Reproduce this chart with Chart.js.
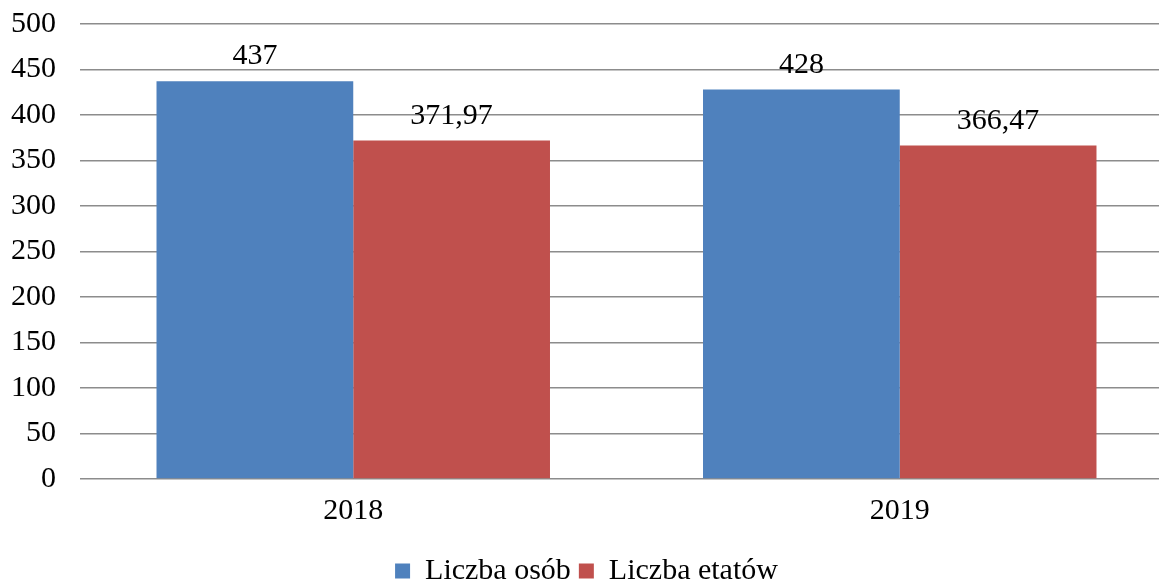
<!DOCTYPE html>
<html lang="pl">
<head>
<meta charset="UTF-8">
<title>Liczba osób i etatów</title>
<script src="https://cdn.jsdelivr.net/npm/chart.js"></script>
<style>
    html, body { margin: 0; padding: 0; background: #fff; overflow: hidden; }
    #wrap { width: 1173px; height: 580px; }
</style>
</head>
<body>
<div id="wrap"><canvas id="chart"></canvas></div>
<script>
// Data
const years = ['2018', '2019'];
const persons = [437, 428];
const posts = [371.97, 366.47];
const seriesNames = ['Liczba osób', 'Liczba etatów'];

const FONT = '"Liberation Serif", "Times New Roman", serif';
const SIZE = 30;

const fmt = v => String(v).replace('.', ',');

// draws the value above each bar
const valueLabels = {
    id: 'valueLabels',
    afterDatasetsDraw(chart) {
        const ctx = chart.ctx;
        ctx.save();
        ctx.font = SIZE + 'px ' + FONT;
        ctx.fillStyle = '#000';
        ctx.textAlign = 'center';
        ctx.textBaseline = 'alphabetic';
        chart.data.datasets.forEach((ds, i) => {
            chart.getDatasetMeta(i).data.forEach((bar, j) => {
                ctx.fillText(fmt(ds.data[j]), bar.x, bar.y - 17);
            });
        });
        ctx.restore();
    }
};

new Chart(document.getElementById('chart'), {
    type: 'bar',
    data: {
        labels: years,
        datasets: [
            { label: seriesNames[0], data: persons, backgroundColor: '#4F81BD' },
            { label: seriesNames[1], data: posts, backgroundColor: '#C0504D' }
        ]
    },
    options: {
        responsive: true,
        maintainAspectRatio: false,
        animation: false,
        categoryPercentage: 0.72,
        barPercentage: 1.0,
        layout: { padding: { top: 24, right: 0, left: 0, bottom: -16 } },
        plugins: {
            legend: {
                position: 'bottom',
                labels: {
                    font: { family: FONT, size: SIZE },
                    color: '#000',
                    boxWidth: 15,
                    boxHeight: 15,
                    padding: 8
                }
            },
            tooltip: { enabled: false }
        },
        scales: {
            x: {
                grid: { display: false, drawTicks: false },
                border: { display: false },
                ticks: { font: { family: FONT, size: SIZE }, color: '#000', padding: 14 },
                afterFit(scale) { scale.height = 69; }
            },
            y: {
                min: 0,
                max: 500,
                ticks: { stepSize: 50, font: { family: FONT, size: SIZE }, color: '#000', padding: 24 },
                grid: { color: '#8c8c8c', lineWidth: 1.5, drawTicks: false },
                border: { display: false },
                afterFit(scale) {
                    scale.width = 80;
                    scale.paddingTop = 0;
                    scale.paddingBottom = 0;
                }
            }
        }
    },
    plugins: [valueLabels]
});
</script>
</body>
</html>
